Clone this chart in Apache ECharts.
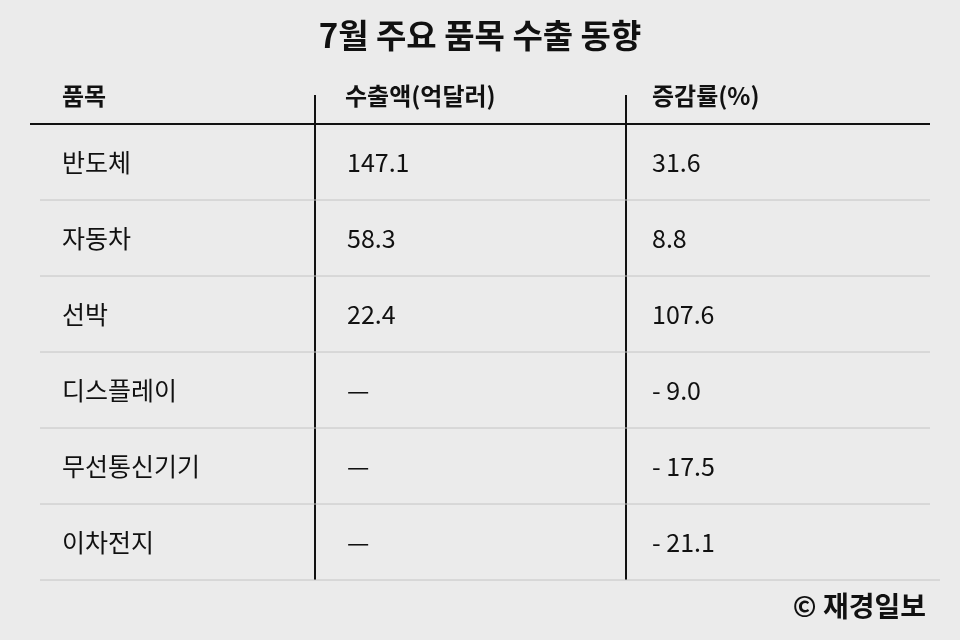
<!DOCTYPE html>
<html><head><meta charset="utf-8">
<script src="https://cdn.jsdelivr.net/npm/echarts@6/dist/echarts.min.js"></script>
<style>html,body{margin:0;padding:0;background:#ebebeb}#c{width:960px;height:640px}</style>
</head><body><div id="c"></div>
<script>
const title = '7월 주요 품목 수출 동향';
const headers = ['품목', '수출액(억달러)', '증감률(%)'];
const categories = ['반도체', '자동차', '선박', '디스플레이', '무선통신기기', '이차전지'];
const exportValues = ['147.1', '58.3', '22.4', '—', '—', '—'];
const changeRates = ['31.6', '8.8', '107.6', '- 9.0', '- 17.5', '- 21.1'];
const source = '© 재경일보';

const font = '"Noto Sans CJK KR", "Noto Sans", sans-serif';
const data = categories.map((c, i) => [i, c, exportValues[i], changeRates[i]]);
const chart = echarts.init(document.getElementById('c'));
chart.setOption({
  backgroundColor: '#ebebeb',
  animation: false,
  graphic: [
    { type: 'text', left: 'center', top: 19, style: { text: title, font: 'bold 33px ' + font, fill: '#111' } },
    ...headers.map((h, i) => ({ type: 'text', left: [62, 345, 652][i], top: 84, style: { text: h, font: 'bold 24px ' + font, fill: '#111' } })),
    { type: 'line', shape: { x1: 30, y1: 124, x2: 930, y2: 124 }, style: { stroke: '#111', lineWidth: 2 } },
    { type: 'line', shape: { x1: 315, y1: 95, x2: 315, y2: 580 }, style: { stroke: '#111', lineWidth: 2 } },
    { type: 'line', shape: { x1: 626, y1: 95, x2: 626, y2: 580 }, style: { stroke: '#111', lineWidth: 2 } },
    { type: 'text', right: 34, top: 592, style: { text: source, font: 'bold 28px ' + font, fill: '#111' } }
  ],
  grid: { left: 30, right: 30, top: 124, bottom: 60 },
  xAxis: { type: 'value', min: 0, max: 900, show: false },
  yAxis: { type: 'category', data: categories, inverse: true, show: false },
  series: [{
    type: 'custom',
    data: data,
    renderItem: function (params, api) {
      const i = api.value(0);
      const c = api.coord([0, i]);
      const band = api.size([0, 1])[1];
      const yb = c[1] + band / 2;
      const children = [
        { type: 'line', shape: { x1: 40, y1: yb, x2: i === 5 ? 940 : 930, y2: yb }, style: { stroke: '#c4c4c4', lineWidth: 1 } }
      ];
      const texts = [categories[i], exportValues[i], changeRates[i]];
      const xs = [62, 347, 652];
      texts.forEach((t, k) => children.push({
        type: 'text', x: xs[k], y: c[1],
        style: { text: t, font: '25px ' + font, fill: '#111', verticalAlign: 'middle' }
      }));
      return { type: 'group', children: children };
    }
  }]
});
</script></body></html>
